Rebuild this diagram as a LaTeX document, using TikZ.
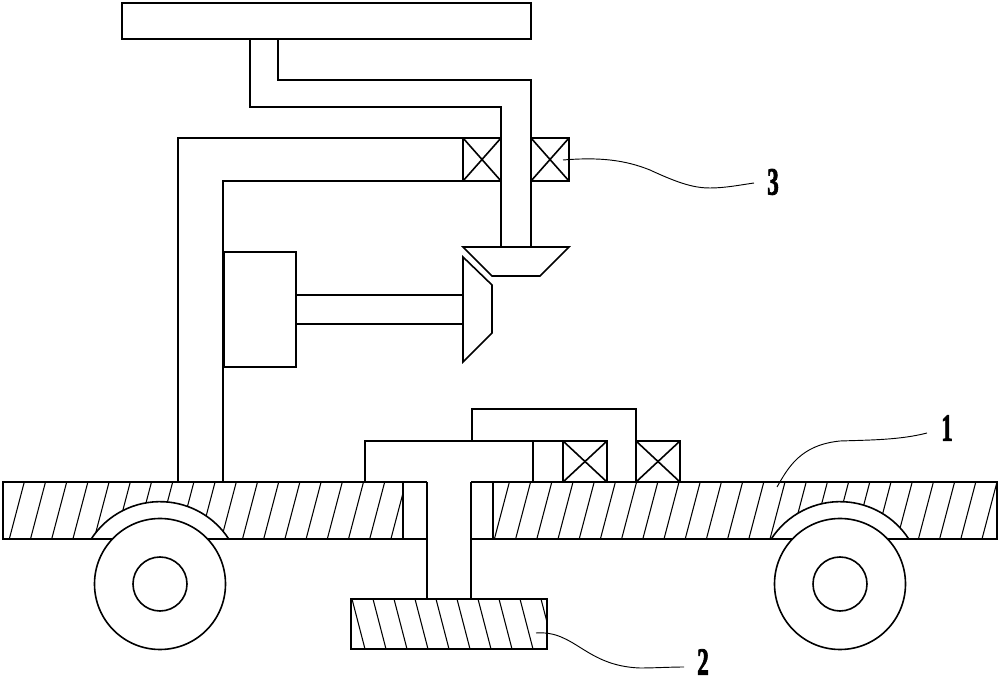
\documentclass[tikz,border=0pt]{standalone}
\usepackage{fontspec}
\setmainfont[BoldFeatures={FakeBold=2.2}]{Liberation Serif}
\tikzset{
	part/.style={line width=1.2pt,line join=miter},
	hatchline/.style={line width=0.8pt},
	leader/.style={line width=0.7pt},
	numlabel/.style={font=\fontsize{29}{29}\bfseries,xscale=0.6,inner sep=0pt}
}
\begin{document}
\begin{tikzpicture}[x=0.75pt,y=-0.75pt]
	\useasboundingbox (0,0) rectangle (1000,680);
	\begin{scope}
		\clip (3,482) rectangle (403,539);
		\foreach \x in {9.3,30.5,...,400}
		{
			\draw[hatchline] (\x,539) -- (\x+15,482);
		}
	\end{scope}
	\begin{scope}
		\clip (493,482) rectangle (997,539);
		\foreach \x in {473.2,494.4,...,990}
		{
			\draw[hatchline] (\x,539) -- (\x+15,482);
		}
	\end{scope}
	\begin{scope}
		\clip (351,599) rectangle (547,649);
		\foreach \x in {352,373,...,560}
		{
			\draw[hatchline] (\x,599) -- (\x+13,649);
		}
	\end{scope}
	\draw[part] (427,482) -- (3,482) -- (3,539) -- (427,539);
	\draw[part] (471,482) -- (997,482) -- (997,539) -- (471,539);
	\draw[part] (403,482) -- (403,539);
	\draw[part] (493,482) -- (493,539);
	\draw[part] (427,482) -- (427,599);
	\draw[part] (471,482) -- (471,599);
	\draw[part] (351,599) rectangle (547,649);
	\foreach \x in {160,840}
	{
		\filldraw[part,fill=white] (\x-68.8,539) arc (213:327:82) -- cycle;
		\filldraw[part,fill=white] (\x,584) circle [radius=65.5];
		\draw[part] (\x,584) circle [radius=27];
	}
	\draw[part] (365,482) -- (365,441) -- (607,441);
	\draw[part] (533,441) -- (533,482);
	\draw[part] (472,441) -- (472,409) -- (636,409) -- (636,482);
	\foreach \x in {563,636}
	{
		\draw[part] (\x,441) rectangle (\x+44,482);
		\draw[part] (\x,441) -- (\x+44,482);
		\draw[part] (\x,482) -- (\x+44,441);
	}
	\draw[part] (122,3) rectangle (531,39);
	\draw[part] (250,39) -- (250,107) -- (501,107) -- (501,247);
	\draw[part] (278,39) -- (278,80) -- (531,80) -- (531,247);
	\draw[part] (178,482) -- (178,138) -- (463,138);
	\draw[part] (223,482) -- (223,181) -- (463,181);
	\foreach \x in {463,531}
	{
		\draw[part] (\x,138) rectangle (\x+38,181);
		\draw[part] (\x,138) -- (\x+38,181);
		\draw[part] (\x,181) -- (\x+38,138);
	}
	\draw[part] (224,252) rectangle (296,367);
	\draw[part] (296,295) -- (463,295);
	\draw[part] (296,324) -- (463,324);
	\draw[part] (463,247) -- (569,247) -- (540,276) -- (492,276) -- cycle;
	\draw[part] (463,257) -- (492,285) -- (492,333) -- (463,362) -- cycle;
	\node[numlabel] (one) at (947,428) {1};
	\node[numlabel] (two) at (703,662) {2};
	\node[numlabel] (three) at (773,182) {3};
	\coordinate (onefoot) at (777,487);
	\coordinate (twofoot) at (536,633);
	\coordinate (threefoot) at (563,160);
	\draw[leader] (onefoot) .. controls (788,468) and (800,445) .. (840,441) .. controls (870,440) and (900,440) .. (927,433);
	\draw[leader] (twofoot) .. controls (575,630) and (585,666) .. (640,668) .. controls (655,668) and (670,667) .. (684,667);
	\draw[leader] (threefoot) .. controls (600,157) and (625,160) .. (650,170) .. controls (680,184) and (695,188) .. (710,188) .. controls (725,188) and (740,185) .. (754,183);
\end{tikzpicture}
\end{document}
